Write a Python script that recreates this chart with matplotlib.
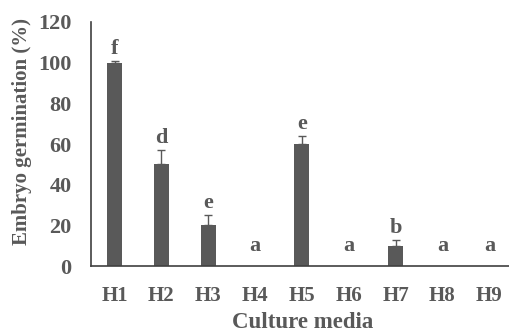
import matplotlib.pyplot as plt
import numpy as np

media = ['H1', 'H2', 'H3', 'H4', 'H5', 'H6', 'H7', 'H8', 'H9']
germination = [100, 50, 20, 0, 60, 0, 10, 0, 0]
errors = [0.6, 7, 5, 0, 4, 0, 3, 0, 0]
letters = ['f', 'd', 'e', 'a', 'e', 'a', 'b', 'a', 'a']

grey = '#595959'
plt.rcParams['font.family'] = ['Liberation Serif', 'DejaVu Serif']
plt.rcParams['font.weight'] = 'bold'

fig = plt.figure(figsize=(5.09, 3.33), dpi=100)
ax = fig.add_axes([0.179, 0.201, 0.821, 0.733])

x = np.arange(len(media))
ax.bar(x, germination, width=0.32, color=grey, zorder=2)
err_x = [xi for xi, e in zip(x, errors) if e > 0]
err_y = [g for g, e in zip(germination, errors) if e > 0]
err_e = [e for e in errors if e > 0]
ax.errorbar(err_x, err_y, yerr=[np.zeros(len(err_e)), err_e], fmt='none',
            ecolor=grey, elinewidth=1, capsize=3, capthick=1, zorder=3)

# letters sit just above the error bar (or a little above the axis for zeros)
for xi, g, e, lab in zip(x, germination, errors, letters):
    top = max(g + e, 4)
    ax.annotate(lab, (xi, top), xytext=(0, 1.5), textcoords='offset points',
                ha='center', va='bottom', fontsize=16, fontweight='bold', color=grey, zorder=4)

ax.set_xlim(-0.5, 8.42)
ax.set_ylim(0, 120)
ax.set_yticks(range(0, 121, 20))
ax.set_xticks(x)
ax.set_xticklabels(media)
ax.tick_params(axis='both', length=0, colors=grey)
ax.tick_params(axis='y', pad=14, labelsize=16)
ax.tick_params(axis='x', pad=14, labelsize=15)
for lbl in ax.get_xticklabels() + ax.get_yticklabels():
    lbl.set_fontweight('bold')

for side in ['top', 'right']:
    ax.spines[side].set_visible(False)
ax.spines['left'].set_color('#404040')
ax.spines['bottom'].set_color('#404040')
ax.spines['left'].set_linewidth(1.2)
ax.spines['bottom'].set_linewidth(1.2)

ax.set_xlabel('Culture media', fontsize=16.5, fontweight='bold', color=grey)
ax.set_ylabel('Embryo germination (%)', fontsize=15, fontweight='bold', color=grey)
ax.xaxis.set_label_coords(0.507, -0.19)
ax.yaxis.set_label_coords(-0.141, 0.55)

fig.savefig('out.png', dpi=100)
